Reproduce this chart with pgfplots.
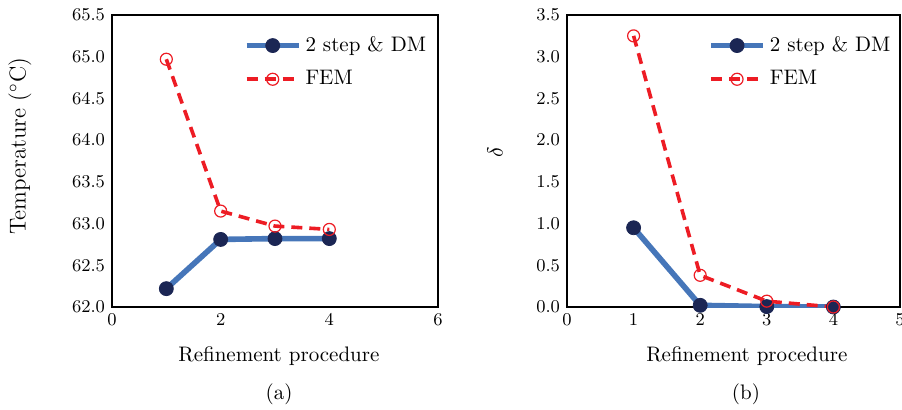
\documentclass[border=0pt]{standalone}
\usepackage{pgfplots}
\pgfplotsset{compat=1.18}
\definecolor{lblue}{RGB}{70,118,185}
\definecolor{navy}{RGB}{27,38,84}
\definecolor{fred}{RGB}{237,28,36}

\pgfplotsset{
  panel/.style={
    anchor=south west, scale only axis, height=146pt,
    axis line style={line width=1.2pt},
    major tick length=0pt,
    tick label style={font=\fontsize{8.6}{10}\selectfont},
    label style={font=\fontsize{10.5}{12}\selectfont},
    yticklabel style={/pgf/number format/.cd,fixed,fixed zerofill,precision=1},
    legend style={draw=none,fill=none,anchor=north west,row sep=4pt,
      legend cell align=left,font=\fontsize{10.5}{12}\selectfont},
    legend image code/.code={\draw[mark repeat=2,mark phase=2,##1]
      plot coordinates {(0pt,0pt) (13pt,0pt) (26pt,0pt)};},
  },
  dm/.style={lblue,line width=2.8pt,mark=*,mark size=3.5pt,
    mark options={solid,fill=navy,draw=navy,line width=0.4pt}},
  fem/.style={fred,line width=1.8pt,dash pattern=on 5.5pt off 3.5pt,mark=o,mark size=3pt,
    mark options={solid,fill=white,draw=fred,line width=0.6pt}},
}

\begin{document}
\begin{tikzpicture}[font=\fontsize{10.5}{12}\selectfont]
\useasboundingbox (0,0) rectangle (451pt,204.5pt);

\begin{axis}[panel, at={(56pt,51pt)}, width=163pt,
  xmin=0, xmax=6, xtick={0,2,4,6},
  ymin=62, ymax=65.5, ytick={62,62.5,...,65.5},
  xlabel={Refinement procedure},
  every axis x label/.style={at={(axis description cs:0.512,0)},anchor=center,yshift=-24.5pt},
  ylabel={Temperature ($^\circ$C)},
  every axis y label/.style={at={(axis description cs:0,0.55)},xshift=-46pt,rotate=90,anchor=center,
    font=\fontsize{11.5}{13}\selectfont},
  legend style={at={(axis description cs:0.385,0.955)}},
]
\addplot[dm] coordinates {(1,62.22) (2,62.81) (3,62.82) (4,62.82)};
\addlegendentry{2 step \& DM}
\addplot[fem] coordinates {(1,64.97) (2,63.15) (3,62.97) (4,62.93)};
\addlegendentry{FEM}
\end{axis}
\node at (139.5pt,7.5pt) {(a)};

\begin{axis}[panel, at={(283.5pt,51pt)}, width=166.5pt,
  xmin=0, xmax=5, xtick={0,1,2,3,4,5},
  ymin=0, ymax=3.5, ytick={0,0.5,...,3.5},
  xlabel={Refinement procedure},
  every axis x label/.style={at={(axis description cs:0.54,0)},anchor=center,yshift=-24.5pt},
  ylabel={$\delta$},
  every axis y label/.style={at={(axis description cs:0,0.53)},xshift=-36pt,rotate=90,anchor=center},
  legend style={at={(axis description cs:0.405,0.955)}},
]
\addplot[dm] coordinates {(1,0.95) (2,0.02) (3,0.005) (4,0.0)};
\addlegendentry{2 step \& DM}
\addplot[fem] coordinates {(1,3.25) (2,0.38) (3,0.07) (4,0.0)};
\addlegendentry{FEM}
\end{axis}
\node at (373pt,7.5pt) {(b)};
\end{tikzpicture}
\end{document}
